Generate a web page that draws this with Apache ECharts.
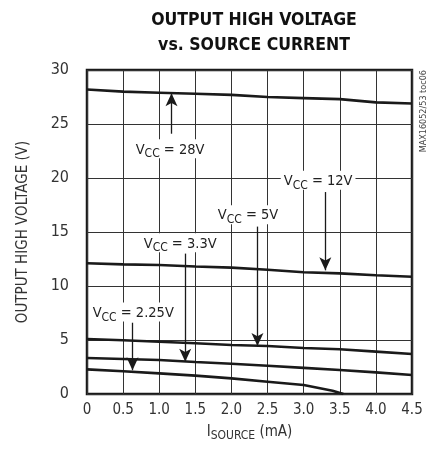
<!DOCTYPE html>
<html>
<head>
<meta charset="utf-8">
<script src="https://cdn.jsdelivr.net/npm/echarts@6/dist/echarts.min.js"></script>
<style>html,body{margin:0;padding:0;background:#fff;}#c{width:431px;height:452px;}</style>
</head>
<body>
<div id="c"></div>
<script>
// Data (I_SOURCE in mA, output high voltage in V)
var xTicks = [0, 0.5, 1.0, 1.5, 2.0, 2.5, 3.0, 3.5, 4.0, 4.5];
var vcc28 = [28.2, 28.0, 27.9, 27.8, 27.7, 27.5, 27.4, 27.3, 27.0, 26.9];
var vcc12 = [12.1, 12.0, 11.94, 11.8, 11.7, 11.5, 11.27, 11.17, 11.0, 10.86];
var vcc5 = [5.09, 4.97, 4.84, 4.7, 4.54, 4.44, 4.26, 4.14, 3.92, 3.7];
var vcc33 = [3.33, 3.24, 3.15, 2.96, 2.8, 2.62, 2.42, 2.22, 2.0, 1.76];
var vcc225x = [0, 0.5, 1.0, 1.5, 2.0, 2.5, 3.0, 3.4, 3.55];
var vcc225 = [2.28, 2.1, 1.91, 1.70, 1.45, 1.14, 0.83, 0.3, 0.0];

// Annotation labels: [text after "VCC = ", label x, label y, arrow x, arrow start y, arrow end y]
var annLabels = ['28V', '12V', '5V', '3.3V', '2.25V'];
var annLabelX = [1.15, 3.2, 2.23, 1.29, 0.64];
var annLabelY = [22.7, 19.8, 16.6, 14.0, 7.6];
var arrowX = [1.17, 3.3, 2.36, 1.36, 0.63];
var arrowFromY = [24.1, 18.7, 15.5, 13.0, 6.6];
var arrowToY = [27.85, 11.45, 4.44, 2.98, 2.2];

var FONT = "'DejaVu Sans Condensed', 'Liberation Sans Narrow', sans-serif";

function pairs(xs, ys) { return xs.map(function (x, i) { return [x, ys[i]]; }); }

var curveStyle = { color: '#1a1a1a', width: 2.6 };
var series = [vcc28, vcc12, vcc5, vcc33].map(function (ys) {
  return { type: 'line', data: pairs(xTicks, ys), symbol: 'none', smooth: false, lineStyle: curveStyle, silent: true, z: 3 };
});
series.push({ type: 'line', data: pairs(vcc225x, vcc225), symbol: 'none', lineStyle: curveStyle, silent: true, z: 3 });

// helper series carrying annotations
series.push({
  type: 'line', data: [], silent: true, z: 5,
  markLine: {
    silent: true, animation: false,
    symbol: ['none', 'arrow'], symbolSize: [9, 13],
    lineStyle: { color: '#1a1a1a', width: 1.3, type: 'solid' },
    label: { show: false },
    data: arrowX.map(function (x, i) {
      return [{ coord: [x, arrowFromY[i]] }, { coord: [x, arrowToY[i]] }];
    })
  },
  markPoint: {
    silent: true, animation: false, symbol: 'rect', symbolSize: 0,
    data: annLabels.map(function (t, i) {
      return {
        coord: [annLabelX[i], annLabelY[i]],
        label: {
          show: true, position: 'inside',
          formatter: '{v|V}{s|CC}{v| = ' + t + '}',
          backgroundColor: '#fff', padding: [1, 3, 1, 3],
          rich: {
            v: { fontFamily: FONT, fontSize: 14.5, color: '#222', verticalAlign: 'bottom', lineHeight: 17 },
            s: { fontFamily: FONT, fontSize: 12, color: '#222', verticalAlign: 'bottom', lineHeight: 17, padding: [0, 0, -3, 0] }
          }
        }
      };
    })
  }
});

var chart = echarts.init(document.getElementById('c'), null, { renderer: 'canvas' });
chart.setOption({
  animation: false,
  backgroundColor: '#fff',
  title: {
    text: 'OUTPUT HIGH VOLTAGE\nvs. SOURCE CURRENT',
    left: 249, top: 3, textAlign: 'center',
    textStyle: { fontFamily: FONT, fontSize: 17.5, fontWeight: 'bold', color: '#111', lineHeight: 25 }
  },
  graphic: [{
    type: 'text', right: 3, top: 70, rotation: Math.PI / 2,
    style: { text: 'MAX16052/53 toc06', fontFamily: FONT, fontSize: 9, fill: '#444' }
  }],
  grid: { left: 87, right: 19, top: 70, bottom: 58, show: true, borderColor: '#1a1a1a', borderWidth: 2.5, backgroundColor: 'transparent' },
  xAxis: {
    type: 'value', min: 0, max: 4.5, interval: 0.5,
    axisLine: { show: false }, axisTick: { show: false },
    splitLine: { show: true, lineStyle: { color: '#333', width: 1 } },
    axisLabel: { margin: 9, fontFamily: FONT, fontSize: 15, color: '#333',
      formatter: function (v) { return v === 0 ? '0' : v.toFixed(1); } },
    name: '{i|I}{s|SOURCE}{i| (mA)}', nameLocation: 'middle', nameGap: 28,
    nameTextStyle: { rich: {
      i: { fontFamily: FONT, fontSize: 15, color: '#333', verticalAlign: 'bottom', lineHeight: 18 },
      s: { fontFamily: FONT, fontSize: 12, color: '#333', verticalAlign: 'bottom', lineHeight: 18, padding: [0, 0, -2, 0] }
    } }
  },
  yAxis: {
    type: 'value', min: 0, max: 30, interval: 5,
    axisLine: { show: false }, axisTick: { show: false },
    splitLine: { show: true, lineStyle: { color: '#333', width: 1 } },
    axisLabel: { margin: 18, fontFamily: FONT, fontSize: 16, color: '#333' },
    name: 'OUTPUT HIGH VOLTAGE (V)', nameLocation: 'middle', nameGap: 56,
    nameTextStyle: { fontFamily: FONT, fontSize: 15, color: '#333' }
  },
  series: series
});
</script>
</body>
</html>
